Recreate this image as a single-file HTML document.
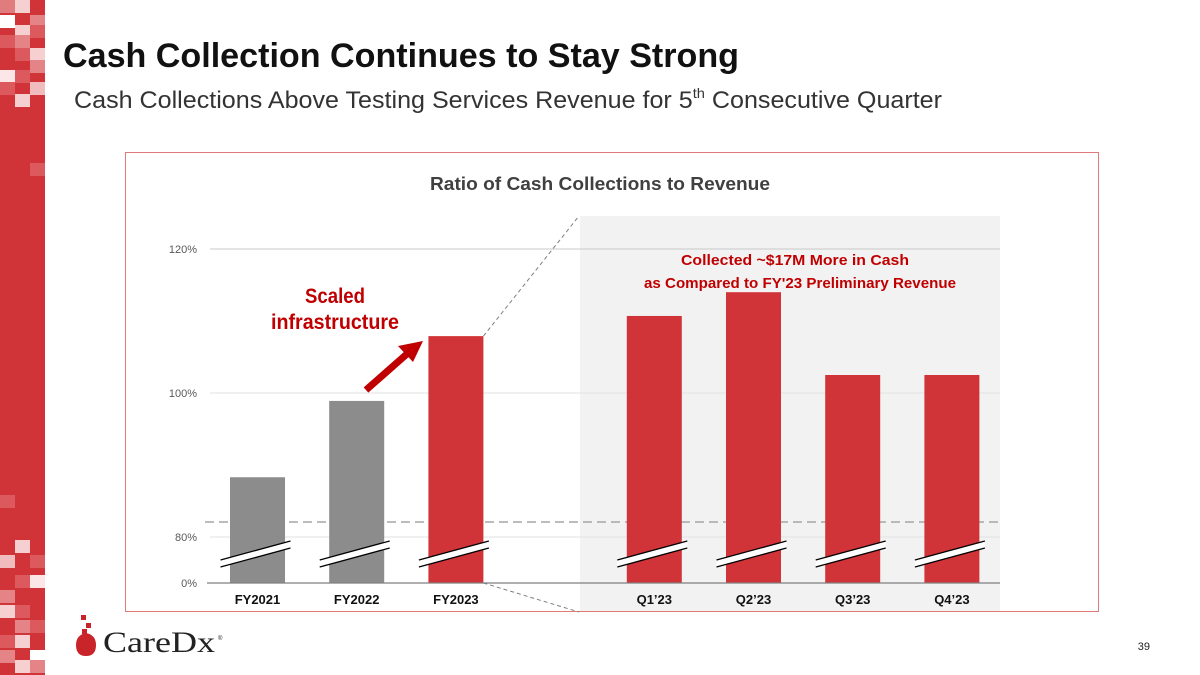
<!DOCTYPE html>
<html><head><meta charset="utf-8"><style>
body{margin:0;background:#fff}
svg{display:block;font-family:"Liberation Sans",sans-serif}
</style></head><body>
<svg width="1200" height="675" viewBox="0 0 1200 675">
<g id="stripe"></g>
<text x="63" y="67" font-size="34" font-weight="bold" fill="#111" textLength="676" lengthAdjust="spacingAndGlyphs">Cash Collection Continues to Stay Strong</text>
<text x="74" y="108" font-size="24" fill="#333" textLength="868" lengthAdjust="spacingAndGlyphs">Cash Collections Above Testing Services Revenue for 5<tspan font-size="14" dy="-10">th</tspan><tspan dy="10"> Consecutive Quarter</tspan></text>
<rect x="125.5" y="152.5" width="973" height="459" fill="none" stroke="#e07a7a" stroke-width="1"/>
<text x="600" y="190" font-size="18" font-weight="bold" fill="#404040" text-anchor="middle" textLength="340" lengthAdjust="spacingAndGlyphs">Ratio of Cash Collections to Revenue</text>
<rect x="580" y="216" width="420" height="395" fill="#f2f2f2"/>
<g id="chart"></g>
<text x="795" y="265" font-size="15" font-weight="bold" fill="#c00000" text-anchor="middle" textLength="228" lengthAdjust="spacingAndGlyphs">Collected ~$17M More in Cash</text>
<text x="800" y="288" font-size="15" font-weight="bold" fill="#c00000" text-anchor="middle" textLength="312" lengthAdjust="spacingAndGlyphs">as Compared to FY'23 Preliminary Revenue</text>
<text x="335" y="303" font-size="21" font-weight="bold" fill="#c00000" text-anchor="middle" textLength="60" lengthAdjust="spacingAndGlyphs">Scaled</text>
<text x="335" y="329" font-size="21" font-weight="bold" fill="#c00000" text-anchor="middle" textLength="128" lengthAdjust="spacingAndGlyphs">infrastructure</text>
<g>
<line x1="366" y1="390" x2="408" y2="353" stroke="#c00000" stroke-width="7"/>
<polygon points="423,341 398,346 413,362" fill="#c00000"/>
</g>
<g>
<rect x="81" y="615" width="5" height="5" fill="#c8242a"/>
<rect x="86" y="623" width="5" height="5" fill="#c8242a"/>
<rect x="82" y="629" width="5" height="5" fill="#c8242a"/>
<path d="M76 645 Q76 635 86 633 Q96 635 96 645 Q96 656 86 656 Q76 656 76 645Z" fill="#c8242a"/>
<text x="103" y="652" font-family="Liberation Serif,serif" font-size="30" fill="#222" textLength="112" lengthAdjust="spacingAndGlyphs">CareDx</text>
<text x="218" y="640" font-size="6" fill="#222">®</text>
</g>
<text x="1150" y="650" font-size="11" fill="#222" text-anchor="end">39</text>
</svg>
<script>
const categories=["FY2021","FY2022","FY2023","","Q1’23","Q2’23","Q3’23","Q4’23"];
const values=[88.3,98.9,107.9,null,110.7,114.0,102.5,102.5];
const barColors=["#8c8c8c","#8c8c8c","#d13438",null,"#d13438","#d13438","#d13438","#d13438"];
const tickValues=[80,100,120];
const tickLabels=["80%","100%","120%"];
const NS="http://www.w3.org/2000/svg";
function mk(t,a,p){const e=document.createElementNS(NS,t);for(const k in a)e.setAttribute(k,a[k]);p.appendChild(e);return e;}
// stripe
const st=document.getElementById('stripe');
mk('rect',{x:0,y:0,width:45,height:675,fill:'#d13438'},st);
const deco=[[0,0,'#e07b7e'],[15,0,'#f6d0d1'],[0,15,'#fff'],[30,15,'#e48486'],[15,25,'#f6d0d1'],[30,25,'#dc5a5d'],[0,35,'#dc5a5d'],[15,35,'#e48486'],[30,48,'#f6d0d1'],[15,48,'#dc5a5d'],[30,60,'#e48486'],[0,70,'#fbe7e8'],[15,70,'#dc5a5d'],[0,82,'#dc5a5d'],[30,82,'#f1bcbe'],[15,94,'#f6d0d1'],[30,163,'#dc5a5d'],[0,495,'#dc5a5d'],[15,540,'#f6d0d1'],[0,555,'#f1bcbe'],[30,555,'#dc5a5d'],[15,575,'#dc5a5d'],[30,575,'#fbe7e8'],[0,590,'#e48486'],[0,605,'#f6d0d1'],[15,605,'#dc5a5d'],[15,620,'#e48486'],[30,620,'#dc5a5d'],[0,635,'#dc5a5d'],[15,635,'#f6d0d1'],[0,650,'#e48486'],[30,650,'#fff'],[15,660,'#f6d0d1'],[30,660,'#e48486']];
deco.forEach(d=>mk('rect',{x:d[0],y:d[1],width:15,height:13,fill:d[2]},st));
// chart
const g=document.getElementById('chart');
const y=v=>393-(v-100)*7.2;
const x0=257.5,step=99.2,bw=55,base=583;
const xc=i=>x0+i*step;
tickValues.forEach((t,i)=>{
 const gl=mk('line',{x1:210,x2:1000,y1:y(t),y2:y(t),stroke:i==2?'#c8c8c8':'#e2e2e2','stroke-width':1},g);
 
 
 const tl=mk('text',{x:197,y:y(t)+4,'font-size':11,fill:'#595959','text-anchor':'end'},g);
 tl.textContent=tickLabels[i];
 
 
});
const z=mk('text',{x:197,y:base+4,'font-size':11,fill:'#595959','text-anchor':'end'},g);z.textContent='0%';


const dl=mk('line',{x1:205,x2:1000,y1:522,y2:522,stroke:'#a6a6a6','stroke-width':1.5,'stroke-dasharray':'9 5'},g);


categories.forEach((c,i)=>{
 if(values[i]==null)return;
 const cx=xc(i);
 const b=mk('rect',{x:cx-bw/2,y:y(values[i]),width:bw,height:base-y(values[i]),fill:barColors[i]},g);
 
 
 const bk=mk('polygon',{points:`${cx-37},${560} ${cx+33},${541} ${cx+33},${548} ${cx-37},${567}`,fill:'#fff'},g);
 
 
 mk('line',{x1:cx-37,y1:560,x2:cx+33,y2:541,stroke:'#000','stroke-width':1.3},g);
 mk('line',{x1:cx-37,y1:567,x2:cx+33,y2:548,stroke:'#000','stroke-width':1.3},g);
 const t=mk('text',{x:cx,y:604,'font-size':13,'font-weight':'bold',fill:'#111','text-anchor':'middle'},g);
 t.textContent=c;
 
 
});
const ax=mk('line',{x1:207,x2:1000,y1:base,y2:base,stroke:'#7f7f7f','stroke-width':1.3},g);


const r=xc(2)+bw/2;
mk('line',{x1:r,y1:y(values[2]),x2:579,y2:216,stroke:'#7f7f7f','stroke-dasharray':'4 3'},g);
mk('line',{x1:r,y1:base,x2:579,y2:612,stroke:'#7f7f7f','stroke-dasharray':'4 3'},g);
</script>
</body></html>
